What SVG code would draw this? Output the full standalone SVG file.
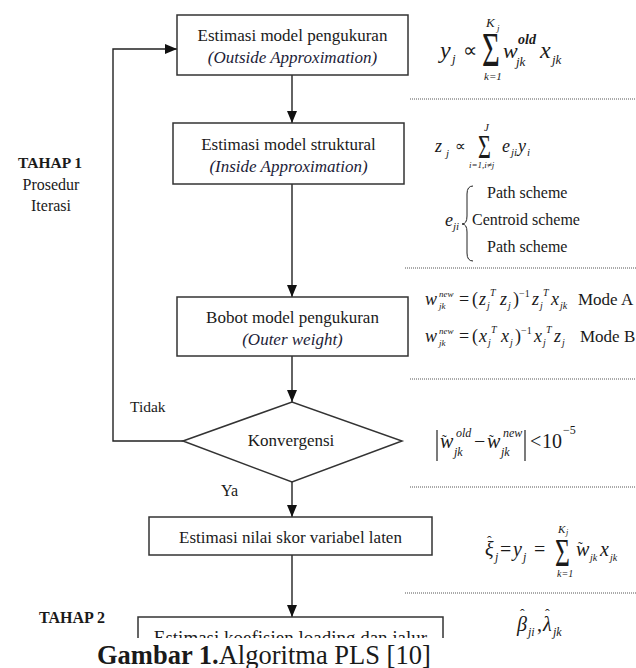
<svg xmlns="http://www.w3.org/2000/svg" width="636" height="668" viewBox="0 0 636 668">
<style>
text{font-family:"Liberation Serif","Times New Roman",serif;fill:#1a1a1a}
.bx{fill:#fff;stroke:#333;stroke-width:1.5}
.t{font-size:17px;text-anchor:middle}
.it{font-style:italic;fill:#1c1c38}
.mi{font-style:italic}
.c{stroke:#222;stroke-width:1.4;fill:none}
.dot{stroke:#555;stroke-width:1;stroke-dasharray:1 1}
.b{font-weight:bold}
</style>
<defs>
<marker id="ah" viewBox="0 0 12 10" refX="12" refY="5" markerWidth="12" markerHeight="10" markerUnits="userSpaceOnUse" orient="auto">
<path d="M0,0 L12,5 L0,10 z" fill="#111"/>
</marker>
<clipPath id="cut"><rect x="0" y="0" width="636" height="638"/></clipPath>
</defs>

<g id="connectors">
<line class="c" x1="292" y1="75" x2="292" y2="123" marker-end="url(#ah)"/>
<line class="c" x1="292" y1="184" x2="292" y2="297" marker-end="url(#ah)"/>
<line class="c" x1="292" y1="356" x2="292" y2="402" marker-end="url(#ah)"/>
<line class="c" x1="292" y1="482" x2="292" y2="517" marker-end="url(#ah)"/>
<line class="c" x1="292" y1="555" x2="292" y2="617" marker-end="url(#ah)"/>
<path class="c" d="M183,441 H113 V49 H177" marker-end="url(#ah)"/>
<text x="130" y="412" font-size="15.5">Tidak</text>
<text x="221" y="496" font-size="16">Ya</text>
</g>

<g id="n1">
<rect class="bx" x="177" y="15" width="231" height="60"/>
<text class="t" x="292.5" y="41">Estimasi model pengukuran</text>
<text class="t it" x="292.5" y="63">(Outside Approximation)</text>
</g>
<g id="n2">
<rect class="bx" x="173" y="123" width="231" height="61"/>
<text class="t" x="288.5" y="150">Estimasi model struktural</text>
<text class="t it" x="288.5" y="172">(Inside Approximation)</text>
</g>
<g id="n3">
<rect class="bx" x="177" y="297" width="231" height="59"/>
<text class="t" x="292.5" y="323">Bobot model pengukuran</text>
<text class="t it" x="292.5" y="345">(Outer weight)</text>
</g>
<g id="n4">
<polygon class="bx" points="183,441 292,402 402,441 292,482"/>
<text class="t" x="291" y="446">Konvergensi</text>
</g>
<g id="n5">
<rect class="bx" x="149" y="517" width="283" height="38"/>
<text class="t" x="290.5" y="543">Estimasi nilai skor variabel laten</text>
</g>
<g id="n6" clip-path="url(#cut)">
<rect class="bx" x="138" y="617" width="305" height="60"/>
<text x="290.5" y="644" font-size="19" text-anchor="middle">Estimasi koefisien loading dan jalur</text>
</g>

<g id="labels">
<text class="b" x="50" y="168" font-size="15.5" text-anchor="middle">TAHAP 1</text>
<text x="51" y="190" font-size="16" text-anchor="middle">Prosedur</text>
<text x="51" y="211" font-size="16" text-anchor="middle">Iterasi</text>
<text class="b" x="39" y="623" font-size="16">TAHAP 2</text>
</g>

<g id="dividers">
<line class="dot" x1="410" y1="99" x2="636" y2="99"/>
<line class="dot" x1="405" y1="268" x2="636" y2="268"/>
<line class="dot" x1="410" y1="379" x2="636" y2="379"/>
<line class="dot" x1="410" y1="487" x2="636" y2="487"/>
<line class="dot" x1="405" y1="593" x2="636" y2="593"/>
</g>

<g id="f1">
<text class="mi" x="440" y="58" font-size="24">y</text>
<text class="mi" x="452" y="63" font-size="13">j</text>
<text x="463" y="57" font-size="20">∝</text>
<text font-size="36" transform="translate(482,66) scale(0.85,1.35)">Σ</text>
<text class="mi" x="486" y="27" font-size="13">K</text>
<text class="mi" x="497" y="31" font-size="9">j</text>
<text class="mi" x="484" y="80" font-size="11">k=1</text>
<text class="mi" x="503" y="58" font-size="22">w</text>
<text class="mi b" x="518" y="44" font-size="14">old</text>
<text class="mi" x="516" y="66" font-size="13">jk</text>
<text class="mi" x="540" y="58" font-size="24">x</text>
<text class="mi" x="552" y="64" font-size="13">jk</text>
</g>

<g id="f2">
<text class="mi" x="435" y="152" font-size="18">z</text>
<text class="mi" x="446" y="157" font-size="11">j</text>
<text x="455" y="151" font-size="15">∝</text>
<text font-size="26" transform="translate(478,158) scale(0.85,1.3)">Σ</text>
<text class="mi" x="484" y="131" font-size="11">J</text>
<text class="mi" x="469" y="168" font-size="9">i=1,i≠j</text>
<text class="mi" x="502" y="152" font-size="18">e</text>
<text class="mi" x="511" y="156" font-size="11">ji</text>
<text class="mi" x="518" y="152" font-size="18">y</text>
<text class="mi" x="527" y="156" font-size="11">i</text>
<text class="mi" x="445" y="226" font-size="18">e</text>
<text class="mi" x="453" y="230" font-size="11">ji</text>
<path d="M473,186 Q467,186 467,194 L467,216 Q467,224 462,224 Q467,224 467,232 L467,253 Q467,261 473,261" fill="none" stroke="#222" stroke-width="1"/>
<text x="487" y="198" font-size="16">Path scheme</text>
<text x="472" y="225" font-size="16">Centroid scheme</text>
<text x="487" y="252" font-size="16">Path scheme</text>
</g>

<g id="f3">
<text class="mi" x="425" y="305" font-size="18">w</text>
<text class="mi" x="439" y="297" font-size="9">new</text>
<text class="mi" x="439" y="309" font-size="9">jk</text>
<text x="459" y="305" font-size="18">=</text>
<text x="472" y="305" font-size="18">(</text>
<text class="mi" x="479" y="305" font-size="18">z</text>
<text class="mi" x="487" y="309" font-size="10">j</text>
<text class="mi" x="490" y="296" font-size="10">T</text>
<text class="mi" x="500" y="305" font-size="18">z</text>
<text class="mi" x="508" y="309" font-size="10">j</text>
<text x="513" y="305" font-size="18">)</text>
<text x="519" y="297" font-size="10">−1</text>
<text class="mi" x="532" y="305" font-size="18">z</text>
<text class="mi" x="540" y="309" font-size="10">j</text>
<text class="mi" x="543" y="296" font-size="10">T</text>
<text class="mi" x="551" y="305" font-size="18">x</text>
<text class="mi" x="560" y="309" font-size="10">jk</text>
<text x="578" y="305" font-size="17">Mode A</text>

<text class="mi" x="425" y="342" font-size="18">w</text>
<text class="mi" x="439" y="334" font-size="9">new</text>
<text class="mi" x="439" y="346" font-size="9">jk</text>
<text x="459" y="342" font-size="18">=</text>
<text x="472" y="342" font-size="18">(</text>
<text class="mi" x="479" y="342" font-size="18">x</text>
<text class="mi" x="488" y="346" font-size="10">j</text>
<text class="mi" x="491" y="333" font-size="10">T</text>
<text class="mi" x="501" y="342" font-size="18">x</text>
<text class="mi" x="510" y="346" font-size="10">j</text>
<text x="515" y="342" font-size="18">)</text>
<text x="521" y="334" font-size="10">−1</text>
<text class="mi" x="534" y="342" font-size="18">x</text>
<text class="mi" x="543" y="346" font-size="10">j</text>
<text class="mi" x="546" y="333" font-size="10">T</text>
<text class="mi" x="554" y="342" font-size="18">z</text>
<text class="mi" x="562" y="346" font-size="10">j</text>
<text x="580" y="342" font-size="17">Mode B</text>
</g>

<g id="f4">
<line x1="437" y1="430" x2="437" y2="461" stroke="#222" stroke-width="1.2"/>
<text class="mi" x="440" y="448" font-size="20">w</text>
<text x="442" y="445" font-size="14">˜</text>
<text class="mi" x="456" y="437" font-size="12">old</text>
<text class="mi" x="454" y="456" font-size="12">jk</text>
<text x="474" y="448" font-size="20">−</text>
<text class="mi" x="487" y="448" font-size="20">w</text>
<text x="489" y="445" font-size="14">˜</text>
<text class="mi" x="503" y="437" font-size="12">new</text>
<text class="mi" x="501" y="456" font-size="12">jk</text>
<line x1="525" y1="430" x2="525" y2="461" stroke="#222" stroke-width="1.2"/>
<text x="530" y="448" font-size="20">&lt;</text>
<text x="542" y="448" font-size="20">10</text>
<text x="563" y="434" font-size="12">−5</text>
</g>

<g id="f5">
<text class="mi" x="485" y="556" font-size="20">ξ</text>
<text x="487" y="546" font-size="14">ˆ</text>
<text class="mi" x="495" y="561" font-size="12">j</text>
<text x="500" y="556" font-size="20">=</text>
<text class="mi" x="513" y="556" font-size="20">y</text>
<text class="mi" x="523" y="561" font-size="12">j</text>
<text x="534" y="556" font-size="20">=</text>
<text font-size="30" transform="translate(555,566) scale(0.85,1.3)">Σ</text>
<text class="mi" x="558" y="533" font-size="11">K</text>
<text class="mi" x="566" y="535" font-size="8">j</text>
<text class="mi" x="557" y="577" font-size="10">k=1</text>
<text class="mi" x="576" y="556" font-size="20">w</text>
<text x="578" y="552" font-size="14">˜</text>
<text class="mi" x="590" y="561" font-size="10">jk</text>
<text class="mi" x="600" y="556" font-size="20">x</text>
<text class="mi" x="610" y="561" font-size="10">jk</text>
</g>

<g id="f6">
<text class="mi" x="517" y="631" font-size="20">β</text>
<text x="520" y="619" font-size="14">ˆ</text>
<text class="mi" x="528" y="636" font-size="12">ji</text>
<text x="537" y="631" font-size="20">,</text>
<text class="mi" x="543" y="631" font-size="20">λ</text>
<text x="545" y="619" font-size="14">ˆ</text>
<text class="mi" x="553" y="636" font-size="12">jk</text>
</g>

<text x="97" y="664" font-size="26.5"><tspan class="b">Gambar 1.</tspan>Algoritma PLS [10]</text>
</svg>
